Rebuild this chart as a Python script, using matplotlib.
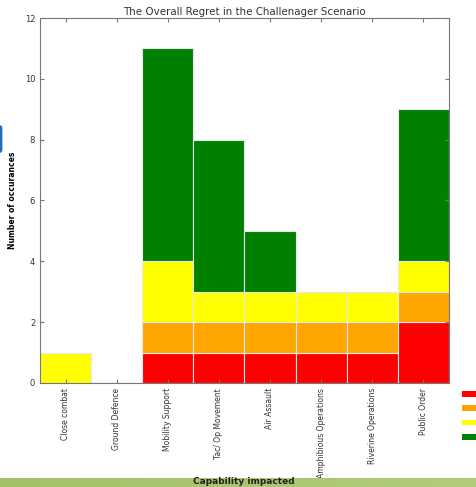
import numpy as np
import matplotlib
matplotlib.use("Agg")
from matplotlib import pyplot as plt
from matplotlib.patches import Patch, FancyBboxPatch

# capabilities and the regret counts per level, stacked bottom to top
capabilities = ['Close combat', 'Ground Defence', 'Mobility Support', 'Tac/ Op Movement',
                'Air Assault', 'Amphibious Operations', 'Riverine Operations', 'Public Order']
red = [0, 0, 1, 1, 1, 1, 1, 2]
orange = [0, 0, 1, 1, 1, 1, 1, 1]
yellow = [1, 0, 2, 1, 1, 1, 1, 1]
green = [0, 0, 7, 5, 2, 0, 0, 5]

colours = ['#ff0000', '#ffa500', '#ffff00', '#008000']

fig = plt.figure(figsize=(4.77, 4.87), dpi=100)
ax = fig.add_axes([0.0839, 0.2136, 0.857, 0.7494])

x = np.arange(len(capabilities))
bottom = np.zeros(len(capabilities))
for vals, c in zip([red, orange, yellow, green], colours):
    ax.bar(x, vals, width=1.0, bottom=bottom, color=c, edgecolor='#e8e8e8', linewidth=0.8)
    bottom += np.array(vals)

ax.set_xlim(-0.5, len(capabilities) - 0.5)
ax.set_ylim(0, 12)
ax.set_yticks(range(0, 13, 2))
ax.set_xticks(x)
ax.set_xticklabels(capabilities, rotation=90, fontsize=5.5, color='#333333')
ax.tick_params(axis='y', labelsize=6, labelcolor='#333333')
ax.tick_params(direction='in', top=True, right=True, length=3, color='#777777')
for s in ax.spines.values():
    s.set_color('#777777')
ax.set_title('The Overall Regret in the Challenager Scenario', fontsize=7.4, color='#333333', pad=2)
ax.set_ylabel('Number of occurances', fontsize=5.5, fontweight='bold')
ax.yaxis.set_label_coords(-0.057, 0.5)

# legend patches run off the right edge
handles = [Patch(facecolor=c, edgecolor='none') for c in colours]
fig.legend(handles, ['', '', '', ''], loc='upper left', bbox_to_anchor=(0.9686, 0.199),
           frameon=False, fontsize=6, handlelength=2.2, handleheight=0.7, labelspacing=0.62,
           borderpad=0, borderaxespad=0)

# slide footer band
band = fig.add_axes([0, 0.0, 1, 0.018])
band.imshow(np.linspace(0, 1, 50).reshape(1, -1), cmap=matplotlib.colors.LinearSegmentedColormap.from_list(
    'g', ['#a3c266', '#b0cc7a']), aspect='auto', extent=[0, 1, 0, 1])
band.axis('off')
fig.text(0.512, 0.0105, 'Capability impacted', ha='center', va='center', fontsize=6.5,
         fontweight='bold', color='#222222')

fig.patches.append(FancyBboxPatch((-0.01, 0.686), 0.015, 0.057, boxstyle='round,pad=0,rounding_size=0.006',
                                  transform=fig.transFigure, facecolor='#1f6fb8', edgecolor='none'))

fig.savefig('out.png', dpi=100)
